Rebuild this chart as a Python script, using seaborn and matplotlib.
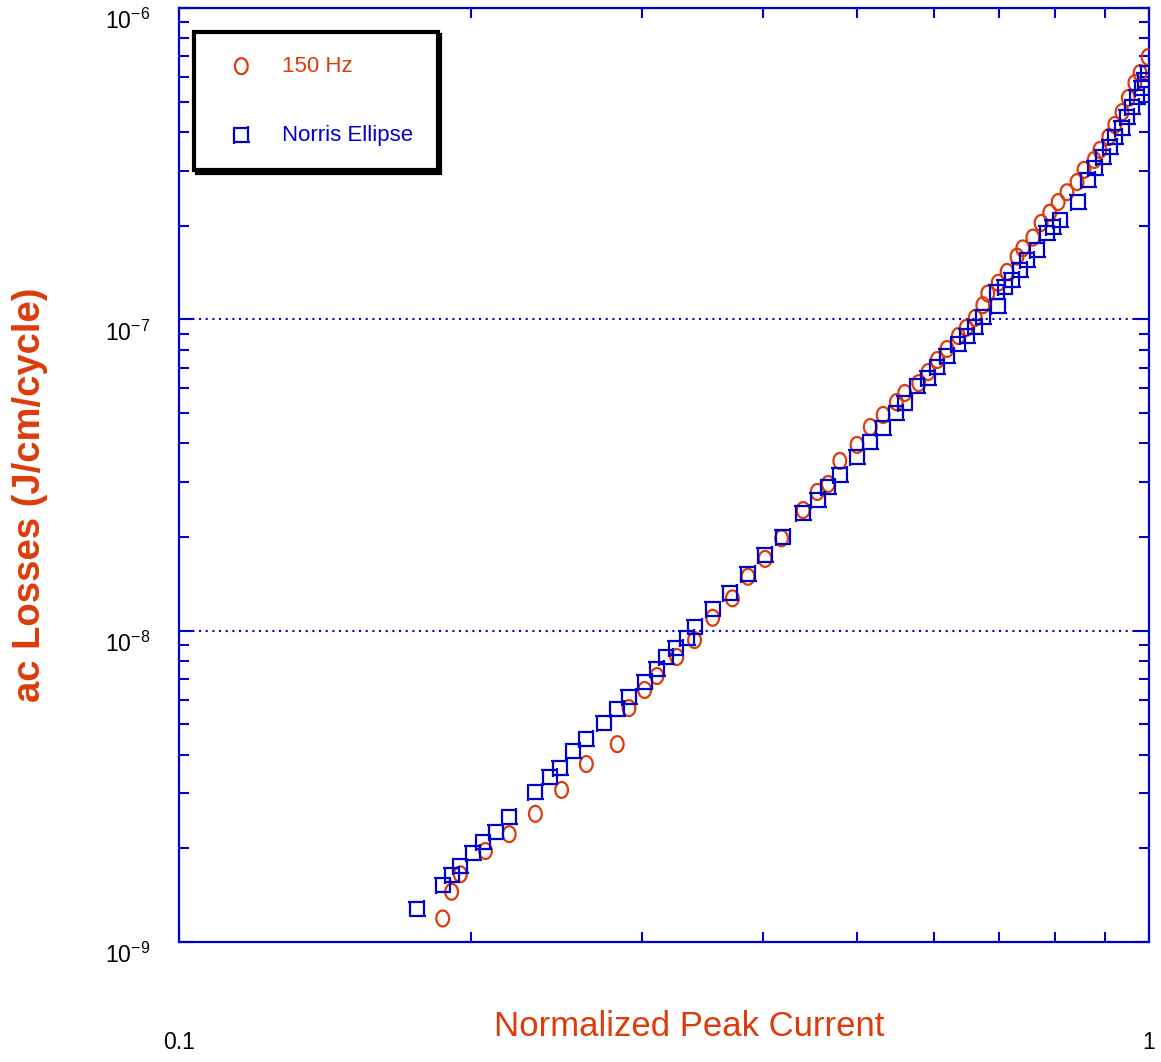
import numpy as np
import pandas as pd
import seaborn as sns
import matplotlib
matplotlib.use('Agg')
import matplotlib.pyplot as plt
import matplotlib.transforms as mtransforms
from matplotlib.path import Path
from matplotlib.ticker import NullFormatter, FixedLocator

# 150 Hz measurements
hz_current = [0.187, 0.191, 0.195, 0.207, 0.219, 0.233, 0.248, 0.263, 0.283, 0.291,
              0.302, 0.311, 0.326, 0.340, 0.355, 0.372, 0.386, 0.402, 0.418, 0.440,
              0.455, 0.467, 0.480, 0.500, 0.516, 0.532, 0.549, 0.560, 0.579, 0.592,
              0.605, 0.619, 0.636, 0.648, 0.662, 0.674, 0.682, 0.699, 0.714, 0.731,
              0.741, 0.759, 0.774, 0.790, 0.806, 0.823, 0.843, 0.857, 0.878, 0.890,
              0.909, 0.922, 0.938, 0.952, 0.967, 0.979, 0.998]
hz_loss = [1.19e-9, 1.45e-9, 1.65e-9, 1.96e-9, 2.22e-9, 2.58e-9, 3.08e-9, 3.73e-9, 4.32e-9, 5.64e-9,
           6.45e-9, 7.15e-9, 8.23e-9, 9.33e-9, 1.10e-8, 1.27e-8, 1.49e-8, 1.70e-8, 1.98e-8, 2.44e-8,
           2.79e-8, 2.96e-8, 3.51e-8, 3.95e-8, 4.51e-8, 4.93e-8, 5.42e-8, 5.80e-8, 6.24e-8, 6.77e-8,
           7.40e-8, 8.03e-8, 8.84e-8, 9.38e-8, 1.01e-7, 1.11e-7, 1.21e-7, 1.31e-7, 1.42e-7, 1.59e-7,
           1.69e-7, 1.83e-7, 2.04e-7, 2.20e-7, 2.38e-7, 2.56e-7, 2.76e-7, 3.02e-7, 3.25e-7, 3.50e-7,
           3.85e-7, 4.21e-7, 4.63e-7, 5.14e-7, 5.74e-7, 6.18e-7, 6.96e-7]

# Norris ellipse model
norris_current = [0.176, 0.187, 0.191, 0.195, 0.201, 0.206, 0.212, 0.219, 0.233, 0.241,
                  0.247, 0.255, 0.263, 0.274, 0.283, 0.291, 0.302, 0.311, 0.318, 0.325,
                  0.334, 0.340, 0.355, 0.370, 0.386, 0.402, 0.419, 0.440, 0.456, 0.467,
                  0.480, 0.500, 0.516, 0.532, 0.549, 0.560, 0.577, 0.592, 0.605, 0.619,
                  0.636, 0.649, 0.662, 0.674, 0.697, 0.699, 0.710, 0.722, 0.736, 0.749,
                  0.767, 0.785, 0.796, 0.810, 0.845, 0.865, 0.880, 0.897, 0.912, 0.922,
                  0.938, 0.949, 0.961, 0.972, 0.984, 0.991, 0.998]
norris_loss = [1.28e-9, 1.52e-9, 1.64e-9, 1.75e-9, 1.93e-9, 2.09e-9, 2.25e-9, 2.52e-9, 3.03e-9, 3.39e-9,
               3.62e-9, 4.10e-9, 4.49e-9, 5.05e-9, 5.60e-9, 6.12e-9, 6.84e-9, 7.53e-9, 8.23e-9, 8.79e-9,
               9.47e-9, 1.03e-8, 1.17e-8, 1.32e-8, 1.52e-8, 1.75e-8, 2.00e-8, 2.39e-8, 2.63e-8, 2.89e-8,
               3.16e-8, 3.61e-8, 4.04e-8, 4.48e-8, 5.00e-8, 5.38e-8, 6.11e-8, 6.48e-8, 7.03e-8, 7.62e-8,
               8.33e-8, 8.84e-8, 9.45e-8, 1.02e-7, 1.22e-7, 1.10e-7, 1.27e-7, 1.34e-7, 1.44e-7, 1.55e-7,
               1.67e-7, 1.89e-7, 1.98e-7, 2.08e-7, 2.38e-7, 2.80e-7, 3.06e-7, 3.32e-7, 3.58e-7, 3.85e-7,
               4.12e-7, 4.47e-7, 4.81e-7, 5.18e-7, 5.53e-7, 5.87e-7, 6.18e-7]

y_ticks = [1e-9, 1e-8, 1e-7, 1e-6]
y_ticklabels = [r'$10^{-9}$', r'$10^{-8}$', r'$10^{-7}$', r'$10^{-6}$']
x_ticks = [0.1, 1]
x_ticklabels = ['0.1', '1']

BLUE = '#0000cc'
ORANGE = '#dd3b0a'

sns.set_style('white')
plt.rcParams['font.family'] = ['Liberation Sans', 'DejaVu Sans']
plt.rcParams['mathtext.fontset'] = 'custom'
plt.rcParams['mathtext.rm'] = 'Liberation Sans'
plt.rcParams['mathtext.it'] = 'Liberation Sans:italic'

# slightly tall open oval and the rough square marker of the original
t = np.linspace(0, 2 * np.pi, 33)
oval = Path(np.column_stack([0.8 * np.cos(t), np.sin(t)]), closed=True)
e = 1.25
square = Path([(-e, 1), (1, 1), (1, e), (1, -1), (-1, -1), (e, -1), (-1, 1), (-1, -e)],
              [Path.MOVETO, Path.LINETO] * 4)

fig = plt.figure(figsize=(11.61, 10.62), dpi=100)
ax = fig.add_axes([179 / 1161, 1 - 942 / 1062, 970 / 1161, 934 / 1062])

hz = pd.DataFrame({'current': hz_current, 'loss': hz_loss})
norris = pd.DataFrame({'current': norris_current, 'loss': norris_loss})

sns.scatterplot(data=hz, x='current', y='loss', ax=ax, marker=oval, s=132,
                facecolor='none', edgecolor=ORANGE, linewidth=1.6, label='150 Hz', zorder=3)
sns.scatterplot(data=norris, x='current', y='loss', ax=ax, marker=square, s=158,
                facecolor='none', edgecolor=BLUE, linewidth=1.6, label='Norris Ellipse', zorder=4)

ax.set_xscale('log')
ax.set_yscale('log')
ax.set_xlim(0.1, 1)
ax.set_ylim(1e-9, 1e-6)

ax.xaxis.set_major_locator(FixedLocator(x_ticks))
ax.set_xticklabels(x_ticklabels)
ax.xaxis.set_minor_formatter(NullFormatter())
ax.yaxis.set_major_locator(FixedLocator(y_ticks))
ax.set_yticklabels(y_ticklabels)
ax.yaxis.set_minor_formatter(NullFormatter())

for sp in ax.spines.values():
    sp.set_color(BLUE)
    sp.set_linewidth(1.6)

ax.tick_params(which='both', direction='in', bottom=True, left=True, top=True, right=True,
               color=BLUE, width=1.5, labelcolor='black', labelsize=16.5)
ax.tick_params(which='major', length=11)
ax.tick_params(which='minor', length=7)
ax.tick_params(axis='x', which='major', pad=64)
ax.tick_params(axis='y', which='major', pad=21)

# nudge the y labels down a little, as in the original
shift = mtransforms.ScaledTranslation(0, -11 / 100, fig.dpi_scale_trans)
for lab in ax.get_yticklabels():
    lab.set_transform(lab.get_transform() + shift)

ax.yaxis.grid(True, which='major', color=BLUE, linestyle=(0, (1, 2.2)), linewidth=1.5)
ax.xaxis.grid(False)

ax.set_xlabel('Normalized Peak Current', fontsize=25, color=ORANGE)
ax.xaxis.set_label_coords(0.526, -0.073)
ax.set_ylabel('ac Losses (J/cm/cycle)', fontsize=27.5, color=ORANGE, fontweight='bold')
ax.yaxis.set_label_coords(-0.135, 0.4786)

leg = ax.legend(loc='upper left', bbox_to_anchor=(194 / 1161, 1 - 32 / 1062),
                bbox_transform=fig.transFigure, borderaxespad=0, fontsize=16,
                frameon=True, fancybox=False, shadow={'color': 'black', 'alpha': 1},
                handlelength=2.1, handletextpad=0.8, borderpad=1.08, labelspacing=2.15,
                labelcolor=[ORANGE, BLUE], scatterpoints=1)
leg.get_frame().set_edgecolor('black')
leg.get_frame().set_linewidth(3)
leg.get_frame().set_facecolor('white')

fig.savefig('out.png', dpi=100)
